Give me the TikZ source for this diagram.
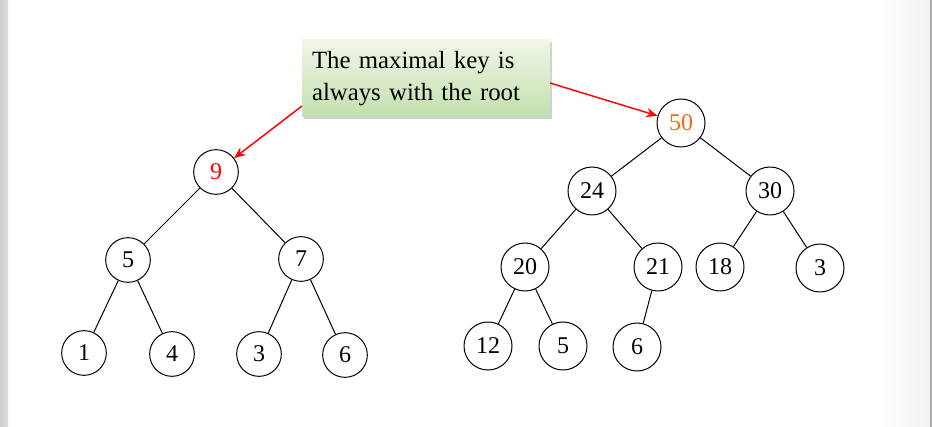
\documentclass[tikz,border=0pt]{standalone}
\usepackage{fontspec}
\setmainfont{Liberation Serif}
\usetikzlibrary{shadows,arrows.meta}
\definecolor{keyorange}{RGB}{250,102,20}
\definecolor{notetop}{RGB}{240,246,234}
\definecolor{notebot}{RGB}{196,223,172}
\tikzset{
  key/.style={circle, draw, line width=0.75pt, inner sep=0pt, minimum size=33.5pt, font=\fontsize{18}{20}\selectfont},
  bigkey/.style={key, minimum size=36pt},
  hint/.style={red, line width=1.1pt, -{Stealth[length=8.5pt,width=7pt]}},
  note/.style={top color=notetop, bottom color=notebot, inner sep=0pt, minimum width=186pt, minimum height=57.75pt,
    align=left, text width=171pt, font=\fontsize{18.6}{24}\selectfont,
    drop shadow={shadow xshift=1.5pt, shadow yshift=-1.5pt, fill=gray!60, opacity=0.6}}
}
\begin{document}
\begin{tikzpicture}[x=0.75pt, y=-0.75pt]
\useasboundingbox (0,0) rectangle (932,427);
\fill[left color=gray!40, right color=gray!25] (0,0) rectangle (8,427);
\fill[left color=white, right color=gray!10] (880,0) rectangle (930,427);
\fill[gray!65] (930,0) rectangle (932,427);
% left heap
\node[key] (l9) at (216,172) {\textcolor{red}{9}};
\node[key] (l5) at (128,260) {5};
\node[key] (l7) at (301,259) {7};
\node[key] (l1) at (84,353) {1};
\node[key] (l4) at (172,354) {4};
\node[key] (l3) at (259,354) {3};
\node[key] (l6) at (345,355) {6};
\foreach \a/\b in {l9/l5, l9/l7, l5/l1, l5/l4, l7/l3, l7/l6} \draw[line width=0.75pt] (\a) -- (\b);
% right heap
\node[bigkey] (r50) at (681,123) {\textcolor{keyorange}{50}};
\node[bigkey] (r24) at (592,191) {24};
\node[bigkey] (r30) at (770,191) {30};
\node[bigkey] (r20) at (525,267) {20};
\node[bigkey] (r21) at (658,267) {21};
\node[bigkey] (r18) at (720,267) {18};
\node[bigkey] (r3) at (820,268) {3};
\node[bigkey] (r12) at (488,346) {12};
\node[bigkey] (r5) at (563,346) {5};
\node[bigkey] (r6) at (637,347) {6};
\foreach \a/\b in {r50/r24, r50/r30, r24/r20, r24/r21, r30/r18, r30/r3, r20/r12, r20/r5, r21/r6} \draw[line width=0.75pt] (\a) -- (\b);
% callout
\node[note] (msg) at (426,78.5) {The maximal key is\\always with the root};
\coordinate (msgl) at (302,106);
\coordinate (msgr) at (550,83);
\draw[hint] (msgl) -- (l9);
\draw[hint] (msgr) -- (r50);
\end{tikzpicture}
\end{document}
